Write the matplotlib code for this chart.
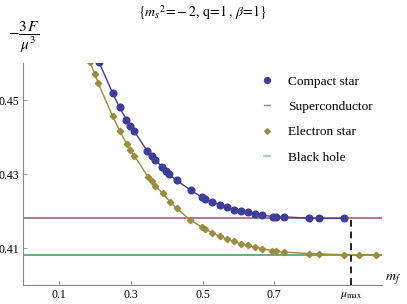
import matplotlib
matplotlib.use("Agg")
import matplotlib.pyplot as plt
from matplotlib.lines import Line2D

plt.rcParams['font.family'] = ['Liberation Serif', 'DejaVu Serif']
plt.rcParams['mathtext.fontset'] = 'stix'

# Data
compact_x = [0.2111, 0.2494, 0.2681, 0.2875, 0.2986, 0.3089, 0.3458, 0.3589, 0.3681,
             0.3875, 0.3967, 0.4069, 0.4278, 0.4672, 0.4972, 0.5078, 0.5272, 0.5478,
             0.5672, 0.5875, 0.6069, 0.6269, 0.6467, 0.6672, 0.6958, 0.7050, 0.7264,
             0.7958, 0.8256, 0.8953]
compact_y = [0.4602, 0.4518, 0.4480, 0.4447, 0.4431, 0.4416, 0.4362, 0.4350, 0.4338,
             0.4319, 0.4309, 0.4299, 0.4283, 0.4256, 0.4238, 0.4233, 0.4224, 0.4217,
             0.4211, 0.4204, 0.4200, 0.4197, 0.4193, 0.4189, 0.4185, 0.4185, 0.4184,
             0.4181, 0.4180, 0.4180]
electron_x = [0.1861, 0.1986, 0.2089, 0.2486, 0.2686, 0.2881, 0.2986, 0.3092, 0.3486,
              0.3589, 0.3681, 0.3883, 0.4089, 0.4283, 0.4639, 0.4972, 0.5069, 0.5272,
              0.5478, 0.5681, 0.5875, 0.6069, 0.6269, 0.6467, 0.6672, 0.6950, 0.7050,
              0.7264, 0.7958, 0.8256, 0.8953, 0.9356, 0.9847]
electron_y = [0.4602, 0.4571, 0.4545, 0.4457, 0.4417, 0.4381, 0.4364, 0.4350, 0.4291,
              0.4280, 0.4268, 0.4248, 0.4225, 0.4207, 0.4177, 0.4157, 0.4152, 0.4141,
              0.4132, 0.4124, 0.4118, 0.4111, 0.4107, 0.4102, 0.4098, 0.4093, 0.4092,
              0.4089, 0.4085, 0.4084, 0.4082, 0.4082, 0.4081]
superconductor_level = 0.4180
blackhole_level = 0.4081
mu_max = 0.914
xticks = [0.1, 0.3, 0.5, 0.7]
xtick_labels = ['0.1', '0.3', '0.5', '0.7']
yticks = [0.41, 0.43, 0.45]
ytick_labels = ['0.41', '0.43', '0.45']

c_blue = '#3d3d9a'
c_pink = '#a0527a'
c_olive = '#998c3d'
c_green = '#3d9954'

fig = plt.figure(figsize=(4.07, 3.04), dpi=100)
ax = fig.add_axes([0.0577, 0.0625, 0.880, 0.730])
ax.set_xlim(0, 1.0)
ax.set_ylim(0.40, 0.46)

ax.axhline(superconductor_level, color=c_pink, lw=1.3, alpha=0.85, zorder=1)
ax.axhline(blackhole_level, color=c_green, lw=1.3, alpha=0.85, zorder=1)
ax.plot([mu_max, mu_max], [0.40, superconductor_level], color='#222222',
        lw=1.4, ls=(0, (3.5, 2.5)), zorder=2)

ax.plot(electron_x, electron_y, color=c_olive, lw=1.0, marker='D', ms=3.2,
        mec=c_olive, mfc=c_olive, zorder=3, clip_on=True)
ax.plot(compact_x, compact_y, color=c_blue, lw=1.0, marker='o', ms=4.8,
        mec=c_blue, mfc=c_blue, zorder=4, clip_on=True)

for s in ['top', 'right']:
    ax.spines[s].set_visible(False)
for s in ['left', 'bottom']:
    ax.spines[s].set_color('#888888')
    ax.spines[s].set_linewidth(0.8)

ax.set_xticks(xticks + [mu_max])
ax.set_xticklabels(xtick_labels + [r'$\mu_{\mathrm{max}}$'])
ax.set_yticks(yticks)
ax.set_yticklabels(ytick_labels)
ax.tick_params(direction='in', length=3, width=0.6, color='#888888',
               labelsize=8.5, pad=3)

fig.text(0.497, 0.958, r'$\{m_s{}^2\!=\!-2,\,\mathrm{q}\!=\!1\,,\,\beta\!=\!1\}$',
         ha='center', va='center', fontsize=10)
fig.text(0.058, 0.875, r'$-\dfrac{3\,F}{\mu^3}$', ha='center', va='center', fontsize=11)
fig.text(0.966, 0.078, r'$m_f$', ha='center', va='center', fontsize=10)

handles = [
    Line2D([], [], ls='none', marker='o', ms=4.2, color=c_blue),
    Line2D([], [], color=c_pink, lw=1.0, alpha=0.8),
    Line2D([], [], ls='none', marker='D', ms=2.8, color=c_olive),
    Line2D([], [], color='#8fcfa0', lw=1.2),
]
labels = ['Compact star', 'Superconductor', 'Electron star', 'Black hole']
leg = fig.legend(handles, labels, loc='upper left', bbox_to_anchor=(0.648, 0.752),
                 frameon=False, fontsize=9.6, handlelength=0.5, handletextpad=1.3,
                 labelspacing=0.97, borderaxespad=0, borderpad=0)

fig.savefig('out.png', dpi=100)
